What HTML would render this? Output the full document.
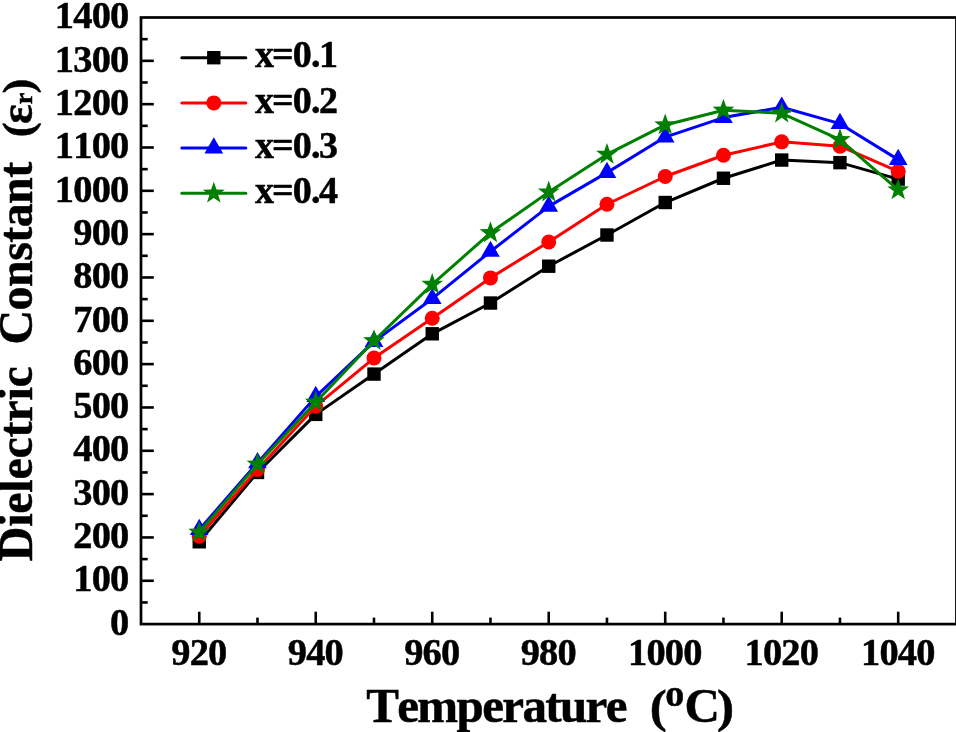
<!DOCTYPE html>
<html lang="en"><head><meta charset="utf-8"><title>Dielectric Constant vs Temperature</title>
<style>html,body{margin:0;padding:0;background:#fff;}body{width:956px;height:732px;overflow:hidden;}svg{display:block;will-change:transform;}text{font-family:"Liberation Serif","Times New Roman",serif;font-weight:bold;fill:#000;font-kerning:none;white-space:pre;stroke:#000;stroke-width:0.5px;stroke-linejoin:round;}</style></head><body>
<svg width="956" height="732" viewBox="0 0 956 732">
<rect x="0" y="0" width="956" height="732" fill="#ffffff"/>
<g fill="none" stroke-linejoin="round" stroke-linecap="round">
<g><polyline points="199.25,541.78 257.49,472.45 315.74,414.39 373.99,374.09 432.23,333.8 490.48,303.04 548.73,266.21 606.97,235.01 665.22,202.51 723.46,178.25 781.71,160.05 839.96,162.65 898.2,179.12" stroke="#000000" stroke-width="3" fill="none"/>
<g stroke="none"><rect x="192.55" y="535.08" width="13.4" height="13.4" fill="#000000"/><rect x="250.79" y="465.75" width="13.4" height="13.4" fill="#000000"/><rect x="309.04" y="407.69" width="13.4" height="13.4" fill="#000000"/><rect x="367.29" y="367.39" width="13.4" height="13.4" fill="#000000"/><rect x="425.53" y="327.1" width="13.4" height="13.4" fill="#000000"/><rect x="483.78" y="296.34" width="13.4" height="13.4" fill="#000000"/><rect x="542.02" y="259.51" width="13.4" height="13.4" fill="#000000"/><rect x="600.27" y="228.31" width="13.4" height="13.4" fill="#000000"/><rect x="658.52" y="195.81" width="13.4" height="13.4" fill="#000000"/><rect x="716.76" y="171.55" width="13.4" height="13.4" fill="#000000"/><rect x="775.01" y="153.35" width="13.4" height="13.4" fill="#000000"/><rect x="833.26" y="155.95" width="13.4" height="13.4" fill="#000000"/><rect x="891.5" y="172.42" width="13.4" height="13.4" fill="#000000"/></g></g>
<g><polyline points="199.25,536.14 257.49,469.42 315.74,406.16 373.99,358.06 432.23,318.2 490.48,277.9 548.73,241.94 606.97,204.25 665.22,176.52 723.46,155.28 781.71,141.85 839.96,146.19 898.2,171.32" stroke="#ff0000" stroke-width="3" fill="none"/>
<g stroke="none"><circle cx="199.25" cy="536.14" r="7.5" fill="#ff0000"/><circle cx="257.49" cy="469.42" r="7.5" fill="#ff0000"/><circle cx="315.74" cy="406.16" r="7.5" fill="#ff0000"/><circle cx="373.99" cy="358.06" r="7.5" fill="#ff0000"/><circle cx="432.23" cy="318.2" r="7.5" fill="#ff0000"/><circle cx="490.48" cy="277.9" r="7.5" fill="#ff0000"/><circle cx="548.73" cy="241.94" r="7.5" fill="#ff0000"/><circle cx="606.97" cy="204.25" r="7.5" fill="#ff0000"/><circle cx="665.22" cy="176.52" r="7.5" fill="#ff0000"/><circle cx="723.46" cy="155.28" r="7.5" fill="#ff0000"/><circle cx="781.71" cy="141.85" r="7.5" fill="#ff0000"/><circle cx="839.96" cy="146.19" r="7.5" fill="#ff0000"/><circle cx="898.2" cy="171.32" r="7.5" fill="#ff0000"/></g></g>
<g><polyline points="199.25,529.64 257.49,462.92 315.74,396.62 373.99,341.6 432.23,298.7 490.48,251.47 548.73,206.41 606.97,172.62 665.22,137.09 723.46,117.59 781.71,107.19 839.96,123.66 898.2,159.62" stroke="#0000ff" stroke-width="3" fill="none"/>
<g stroke="none"><polygon points="199.25,518.84 208.6,535.04 189.89,535.04" fill="#0000ff"/><polygon points="257.49,452.12 266.85,468.32 248.14,468.32" fill="#0000ff"/><polygon points="315.74,385.82 325.09,402.02 306.39,402.02" fill="#0000ff"/><polygon points="373.99,330.8 383.34,347 364.63,347" fill="#0000ff"/><polygon points="432.23,287.9 441.59,304.1 422.88,304.1" fill="#0000ff"/><polygon points="490.48,240.67 499.83,256.87 481.13,256.87" fill="#0000ff"/><polygon points="548.73,195.61 558.08,211.81 539.37,211.81" fill="#0000ff"/><polygon points="606.97,161.82 616.32,178.02 597.62,178.02" fill="#0000ff"/><polygon points="665.22,126.29 674.57,142.49 655.86,142.49" fill="#0000ff"/><polygon points="723.46,106.79 732.82,122.99 714.11,122.99" fill="#0000ff"/><polygon points="781.71,96.39 791.06,112.59 772.36,112.59" fill="#0000ff"/><polygon points="839.96,112.86 849.31,129.06 830.6,129.06" fill="#0000ff"/><polygon points="898.2,148.82 907.56,165.02 888.85,165.02" fill="#0000ff"/></g></g>
<g><polyline points="199.25,532.24 257.49,464.22 315.74,402.26 373.99,340.73 432.23,284.4 490.48,232.84 548.73,192.11 606.97,154.42 665.22,124.95 723.46,110.22 781.71,113.26 839.96,139.69 898.2,189.95" stroke="#008000" stroke-width="3" fill="none"/>
<g stroke="none"><polygon points="199.25,520.74 201.95,528.52 210.18,528.69 203.62,533.66 206.01,541.55 199.25,536.84 192.49,541.55 194.87,533.66 188.31,528.69 196.54,528.52" fill="#008000"/><polygon points="257.49,452.72 260.2,460.5 268.43,460.66 261.87,465.64 264.25,473.52 257.49,468.82 250.73,473.52 253.12,465.64 246.56,460.66 254.79,460.5" fill="#008000"/><polygon points="315.74,390.76 318.44,398.54 326.68,398.7 320.11,403.68 322.5,411.56 315.74,406.86 308.98,411.56 311.36,403.68 304.8,398.7 313.04,398.54" fill="#008000"/><polygon points="373.99,329.23 376.69,337.01 384.92,337.18 378.36,342.15 380.75,350.03 373.99,345.33 367.23,350.03 369.61,342.15 363.05,337.18 371.28,337.01" fill="#008000"/><polygon points="432.23,272.9 434.94,280.68 443.17,280.85 436.61,285.83 438.99,293.71 432.23,289 425.47,293.71 427.86,285.83 421.29,280.85 429.53,280.68" fill="#008000"/><polygon points="490.48,221.34 493.18,229.12 501.42,229.29 494.85,234.26 497.24,242.15 490.48,237.44 483.72,242.15 486.1,234.26 479.54,229.29 487.77,229.12" fill="#008000"/><polygon points="548.73,180.61 551.43,188.39 559.66,188.56 553.1,193.54 555.48,201.42 548.73,196.71 541.97,201.42 544.35,193.54 537.79,188.56 546.02,188.39" fill="#008000"/><polygon points="606.97,142.92 609.68,150.7 617.91,150.86 611.35,155.84 613.73,163.72 606.97,159.02 600.21,163.72 602.6,155.84 596.03,150.86 604.27,150.7" fill="#008000"/><polygon points="665.22,113.45 667.92,121.23 676.16,121.4 669.59,126.38 671.98,134.26 665.22,129.55 658.46,134.26 660.84,126.38 654.28,121.4 662.51,121.23" fill="#008000"/><polygon points="723.46,98.72 726.17,106.5 734.4,106.67 727.84,111.64 730.22,119.53 723.46,114.82 716.7,119.53 719.09,111.64 712.53,106.67 720.76,106.5" fill="#008000"/><polygon points="781.71,101.76 784.41,109.53 792.65,109.7 786.09,114.68 788.47,122.56 781.71,117.86 774.95,122.56 777.34,114.68 770.77,109.7 779.01,109.53" fill="#008000"/><polygon points="839.96,128.19 842.66,135.97 850.89,136.13 844.33,141.11 846.72,148.99 839.96,144.29 833.2,148.99 835.58,141.11 829.02,136.13 837.25,135.97" fill="#008000"/><polygon points="898.2,178.45 900.91,186.23 909.14,186.39 902.58,191.37 904.96,199.25 898.2,194.55 891.44,199.25 893.83,191.37 887.27,186.39 895.5,186.23" fill="#008000"/></g></g>
</g>
<g stroke="#000" stroke-width="2.7" fill="none" stroke-linecap="butt">
<rect x="141" y="17.5" width="815.45" height="606.6"/>
<line x1="141" y1="602.44" x2="147.7" y2="602.44" stroke-width="2.6"/>
<line x1="141" y1="580.77" x2="153.8" y2="580.77" stroke-width="2.6"/>
<line x1="141" y1="559.11" x2="147.7" y2="559.11" stroke-width="2.6"/>
<line x1="141" y1="537.44" x2="153.8" y2="537.44" stroke-width="2.6"/>
<line x1="141" y1="515.78" x2="147.7" y2="515.78" stroke-width="2.6"/>
<line x1="141" y1="494.11" x2="153.8" y2="494.11" stroke-width="2.6"/>
<line x1="141" y1="472.45" x2="147.7" y2="472.45" stroke-width="2.6"/>
<line x1="141" y1="450.79" x2="153.8" y2="450.79" stroke-width="2.6"/>
<line x1="141" y1="429.12" x2="147.7" y2="429.12" stroke-width="2.6"/>
<line x1="141" y1="407.46" x2="153.8" y2="407.46" stroke-width="2.6"/>
<line x1="141" y1="385.79" x2="147.7" y2="385.79" stroke-width="2.6"/>
<line x1="141" y1="364.13" x2="153.8" y2="364.13" stroke-width="2.6"/>
<line x1="141" y1="342.46" x2="147.7" y2="342.46" stroke-width="2.6"/>
<line x1="141" y1="320.8" x2="153.8" y2="320.8" stroke-width="2.6"/>
<line x1="141" y1="299.14" x2="147.7" y2="299.14" stroke-width="2.6"/>
<line x1="141" y1="277.47" x2="153.8" y2="277.47" stroke-width="2.6"/>
<line x1="141" y1="255.81" x2="147.7" y2="255.81" stroke-width="2.6"/>
<line x1="141" y1="234.14" x2="153.8" y2="234.14" stroke-width="2.6"/>
<line x1="141" y1="212.48" x2="147.7" y2="212.48" stroke-width="2.6"/>
<line x1="141" y1="190.81" x2="153.8" y2="190.81" stroke-width="2.6"/>
<line x1="141" y1="169.15" x2="147.7" y2="169.15" stroke-width="2.6"/>
<line x1="141" y1="147.49" x2="153.8" y2="147.49" stroke-width="2.6"/>
<line x1="141" y1="125.82" x2="147.7" y2="125.82" stroke-width="2.6"/>
<line x1="141" y1="104.16" x2="153.8" y2="104.16" stroke-width="2.6"/>
<line x1="141" y1="82.49" x2="147.7" y2="82.49" stroke-width="2.6"/>
<line x1="141" y1="60.83" x2="153.8" y2="60.83" stroke-width="2.6"/>
<line x1="141" y1="39.16" x2="147.7" y2="39.16" stroke-width="2.6"/>
<line x1="199.25" y1="624.1" x2="199.25" y2="611.7" stroke-width="2.6"/>
<line x1="257.49" y1="624.1" x2="257.49" y2="617.6" stroke-width="2.6"/>
<line x1="315.74" y1="624.1" x2="315.74" y2="611.7" stroke-width="2.6"/>
<line x1="373.99" y1="624.1" x2="373.99" y2="617.6" stroke-width="2.6"/>
<line x1="432.23" y1="624.1" x2="432.23" y2="611.7" stroke-width="2.6"/>
<line x1="490.48" y1="624.1" x2="490.48" y2="617.6" stroke-width="2.6"/>
<line x1="548.73" y1="624.1" x2="548.73" y2="611.7" stroke-width="2.6"/>
<line x1="606.97" y1="624.1" x2="606.97" y2="617.6" stroke-width="2.6"/>
<line x1="665.22" y1="624.1" x2="665.22" y2="611.7" stroke-width="2.6"/>
<line x1="723.46" y1="624.1" x2="723.46" y2="617.6" stroke-width="2.6"/>
<line x1="781.71" y1="624.1" x2="781.71" y2="611.7" stroke-width="2.6"/>
<line x1="839.96" y1="624.1" x2="839.96" y2="617.6" stroke-width="2.6"/>
<line x1="898.2" y1="624.1" x2="898.2" y2="611.7" stroke-width="2.6"/>
</g>
<g>
<text x="110.06" y="634.8" font-size="38.4" letter-spacing="-0.8">0</text>
<text x="73.26" y="591.47" font-size="38.4" letter-spacing="-0.8">100</text>
<text x="73.26" y="548.14" font-size="38.4" letter-spacing="-0.8">200</text>
<text x="73.26" y="504.81" font-size="38.4" letter-spacing="-0.8">300</text>
<text x="73.26" y="461.49" font-size="38.4" letter-spacing="-0.8">400</text>
<text x="73.26" y="418.16" font-size="38.4" letter-spacing="-0.8">500</text>
<text x="73.26" y="374.83" font-size="38.4" letter-spacing="-0.8">600</text>
<text x="73.26" y="331.5" font-size="38.4" letter-spacing="-0.8">700</text>
<text x="73.26" y="288.17" font-size="38.4" letter-spacing="-0.8">800</text>
<text x="73.26" y="244.84" font-size="38.4" letter-spacing="-0.8">900</text>
<text x="54.86" y="201.51" font-size="38.4" letter-spacing="-0.8">1000</text>
<text x="54.86" y="158.19" font-size="38.4" letter-spacing="-0.8">1100</text>
<text x="54.86" y="114.86" font-size="38.4" letter-spacing="-0.8">1200</text>
<text x="54.86" y="71.53" font-size="38.4" letter-spacing="-0.8">1300</text>
<text x="54.86" y="28.2" font-size="38.4" letter-spacing="-0.8">1400</text>
<text x="171.25" y="665.3" font-size="38.4" letter-spacing="-0.8">920</text>
<text x="287.74" y="665.3" font-size="38.4" letter-spacing="-0.8">940</text>
<text x="404.23" y="665.3" font-size="38.4" letter-spacing="-0.8">960</text>
<text x="520.73" y="665.3" font-size="38.4" letter-spacing="-0.8">980</text>
<text x="628.02" y="665.3" font-size="38.4" letter-spacing="-0.8">1000</text>
<text x="744.51" y="665.3" font-size="38.4" letter-spacing="-0.8">1020</text>
<text x="861" y="665.3" font-size="38.4" letter-spacing="-0.8">1040</text>
</g>
<text x="366.13" y="721.7" font-size="49" letter-spacing="-1.62">Temperature</text>
<text transform="translate(651.9,721.7) scale(1.1137,1)" x="-2.01" y="0" font-size="45.8">(</text>
<text x="665.15" y="706" font-size="38" letter-spacing="0">o</text>
<text x="684.51" y="721.7" font-size="49" letter-spacing="0">C</text>
<text transform="translate(718.6,721.7) scale(1.1222,1)" x="-1.48" y="0" font-size="45.8">)</text>
<g transform="translate(32,561.5) rotate(-90)">
<text x="0.26" y="0" font-size="48" letter-spacing="-0.23">Dielectric</text>
<text x="216.96" y="0" font-size="48" letter-spacing="-0.56">Constant</text>
<text transform="translate(426.3,0) scale(1.0712,1)" x="-1.84" y="0" font-size="41.8">(</text>
<text x="437.64" y="0" font-size="46" letter-spacing="0">ε</text>
<text x="457.2" y="-0.3" font-size="26" letter-spacing="0">r</text>
<text transform="translate(469.4,0) scale(1.0712,1)" x="-1.35" y="0" font-size="41.8">)</text>
</g>
<line x1="181.8" y1="57.7" x2="245.8" y2="57.7" stroke="#000000" stroke-width="3" stroke-linecap="round"/>
<rect x="207.1" y="51" width="13.4" height="13.4" fill="#000000"/>
<text x="255.05 272.01 292.85 310.93 319" y="67.4" font-size="38">x=0.1</text>
<line x1="181.8" y1="102.9" x2="245.8" y2="102.9" stroke="#ff0000" stroke-width="3" stroke-linecap="round"/>
<circle cx="213.8" cy="102.9" r="7.5" fill="#ff0000"/>
<text x="255.05 272.01 292.85 310.93 319" y="112.6" font-size="38">x=0.2</text>
<line x1="181.8" y1="148.1" x2="245.8" y2="148.1" stroke="#0000ff" stroke-width="3" stroke-linecap="round"/>
<polygon points="213.8,137.3 223.15,153.5 204.45,153.5" fill="#0000ff"/>
<text x="255.05 272.01 292.85 310.93 319" y="157.8" font-size="38">x=0.3</text>
<line x1="181.8" y1="193.3" x2="245.8" y2="193.3" stroke="#008000" stroke-width="3" stroke-linecap="round"/>
<polygon points="213.8,181.8 216.5,189.58 224.74,189.75 218.17,194.72 220.56,202.6 213.8,197.9 207.04,202.6 209.43,194.72 202.86,189.75 211.1,189.58" fill="#008000"/>
<text x="255.05 272.01 292.85 310.93 319" y="203" font-size="38">x=0.4</text>
</svg></body></html>
